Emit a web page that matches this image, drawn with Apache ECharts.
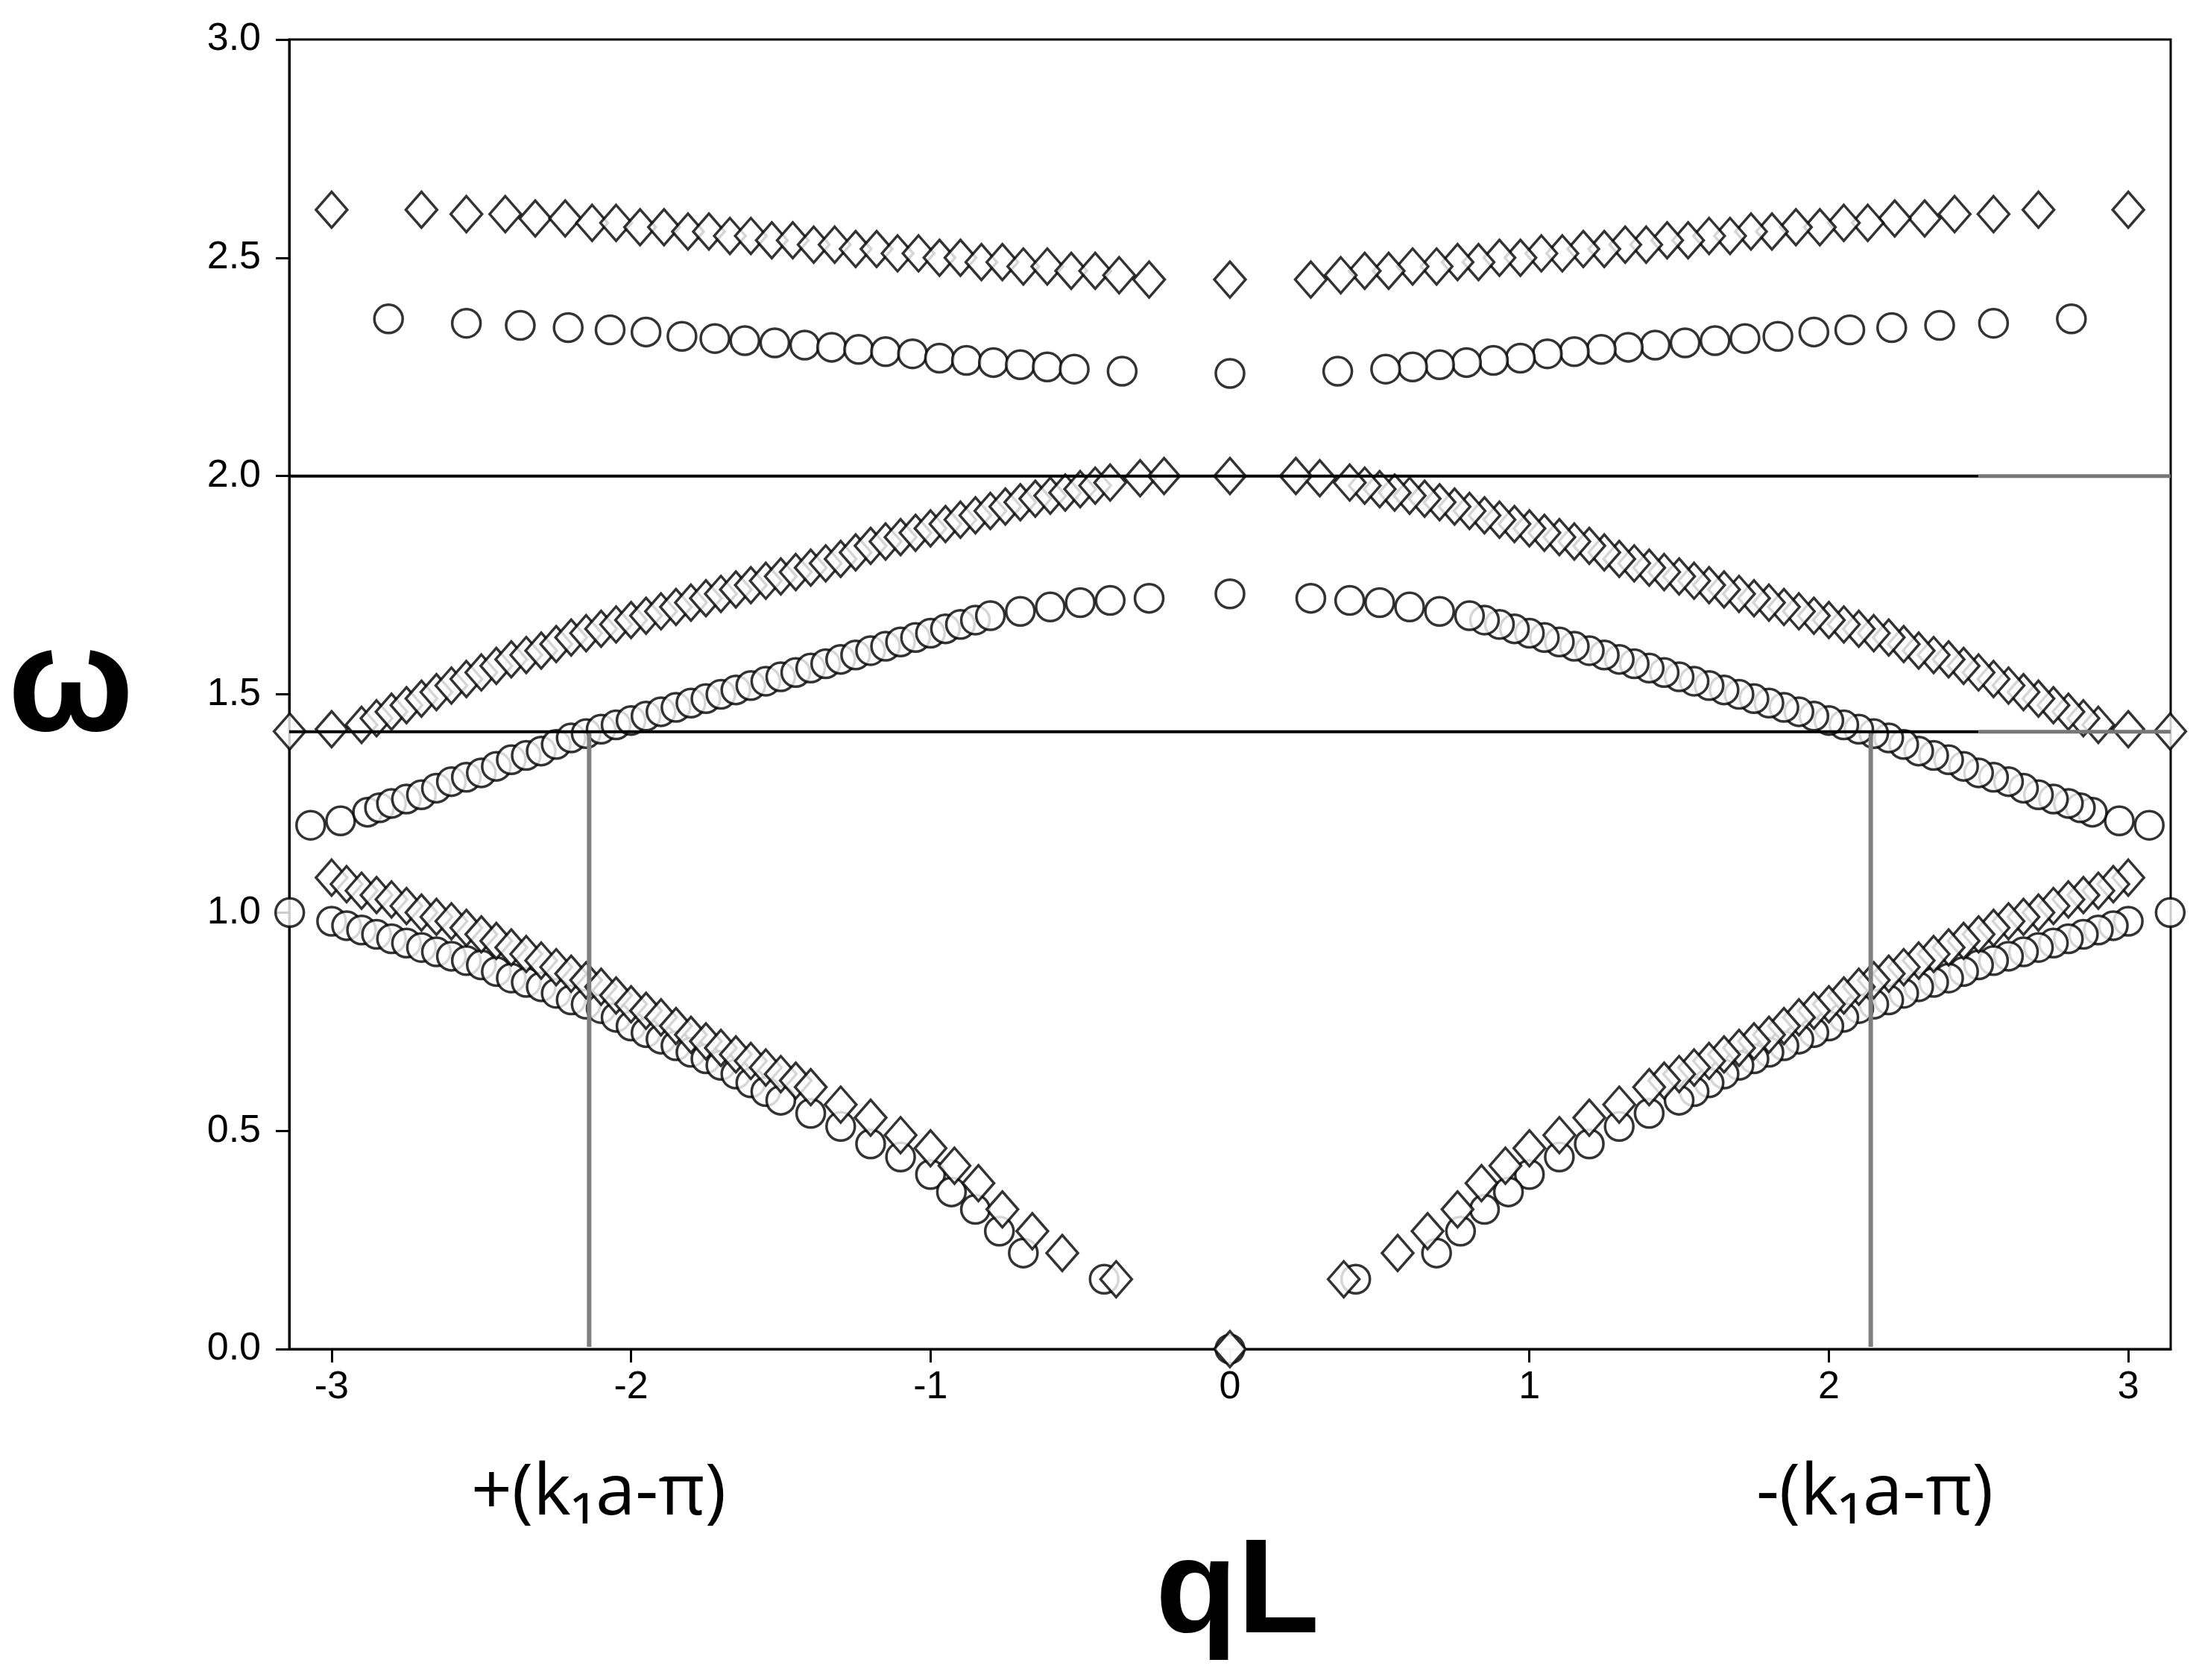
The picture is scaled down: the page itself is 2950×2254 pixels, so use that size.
<!DOCTYPE html>
<html><head><meta charset="utf-8">
<script src="https://cdn.jsdelivr.net/npm/echarts@6/dist/echarts.min.js"></script>
<style>html,body{margin:0;padding:0;background:#fff}#c{width:2950px;height:2254px}</style>
</head><body><div id="c"></div>
<script>
const diamondTopL = [[-3.0,2.61],[-2.70,2.61],[-2.55,2.60],[-2.42,2.60],[-2.32,2.59],[-2.22,2.59],[-2.13,2.58],[-2.05,2.58],[-1.97,2.57],[-1.89,2.57],[-1.81,2.56],[-1.74,2.56],[-1.67,2.55],[-1.60,2.55],[-1.53,2.54],[-1.46,2.54],[-1.39,2.53],[-1.32,2.53],[-1.25,2.52],[-1.18,2.52],[-1.11,2.51],[-1.04,2.51],[-0.97,2.50],[-0.90,2.50],[-0.83,2.49],[-0.76,2.49],[-0.69,2.48],[-0.61,2.48],[-0.53,2.47],[-0.45,2.47],[-0.37,2.46],[-0.27,2.45]];
const diamondTopR = [[3.0,2.61],[2.70,2.61],[2.55,2.60],[2.42,2.60],[2.32,2.59],[2.22,2.59],[2.13,2.58],[2.05,2.58],[1.97,2.57],[1.89,2.57],[1.81,2.56],[1.74,2.56],[1.67,2.55],[1.60,2.55],[1.53,2.54],[1.46,2.54],[1.39,2.53],[1.32,2.53],[1.25,2.52],[1.18,2.52],[1.11,2.51],[1.04,2.51],[0.97,2.50],[0.90,2.50],[0.83,2.49],[0.76,2.49],[0.69,2.48],[0.61,2.48],[0.53,2.47],[0.45,2.47],[0.37,2.46],[0.27,2.45]];
const diamondMidL = [[-3.14,1.415],[-3.0,1.42],[-2.9,1.43],[-2.85,1.445],[-2.8,1.46],[-2.75,1.475],[-2.7,1.49],[-2.65,1.505],[-2.6,1.52],[-2.55,1.535],[-2.5,1.55],[-2.45,1.565],[-2.4,1.58],[-2.35,1.59],[-2.3,1.60],[-2.25,1.615],[-2.2,1.63],[-2.15,1.64],[-2.1,1.65],[-2.05,1.66],[-2.0,1.67],[-1.95,1.68],[-1.9,1.69],[-1.85,1.70],[-1.8,1.71],[-1.75,1.72],[-1.7,1.73],[-1.65,1.74],[-1.6,1.75],[-1.55,1.76],[-1.5,1.77],[-1.45,1.78],[-1.4,1.79],[-1.35,1.80],[-1.3,1.81],[-1.25,1.825],[-1.2,1.84],[-1.15,1.85],[-1.1,1.86],[-1.05,1.87],[-1.0,1.88],[-0.95,1.89],[-0.9,1.90],[-0.85,1.91],[-0.8,1.92],[-0.75,1.93],[-0.7,1.94],[-0.65,1.948],[-0.6,1.955],[-0.55,1.962],[-0.5,1.97],[-0.45,1.978],[-0.4,1.985],[-0.3,1.995],[-0.22,2.0]];
const diamondMidR = [[3.14,1.415],[3.0,1.42],[2.9,1.43],[2.85,1.445],[2.8,1.46],[2.75,1.475],[2.7,1.49],[2.65,1.505],[2.6,1.52],[2.55,1.535],[2.5,1.55],[2.45,1.565],[2.4,1.58],[2.35,1.59],[2.3,1.60],[2.25,1.615],[2.2,1.63],[2.15,1.64],[2.1,1.65],[2.05,1.66],[2.0,1.67],[1.95,1.68],[1.9,1.69],[1.85,1.70],[1.8,1.71],[1.75,1.72],[1.7,1.73],[1.65,1.74],[1.6,1.75],[1.55,1.76],[1.5,1.77],[1.45,1.78],[1.4,1.79],[1.35,1.80],[1.3,1.81],[1.25,1.825],[1.2,1.84],[1.15,1.85],[1.1,1.86],[1.05,1.87],[1.0,1.88],[0.95,1.89],[0.9,1.90],[0.85,1.91],[0.8,1.92],[0.75,1.93],[0.7,1.94],[0.65,1.948],[0.6,1.955],[0.55,1.962],[0.5,1.97],[0.45,1.978],[0.4,1.985],[0.3,1.995],[0.22,2.0]];
const diamondLowL = [[-3.0,1.08],[-2.95,1.065],[-2.9,1.05],[-2.85,1.04],[-2.8,1.03],[-2.75,1.015],[-2.7,1.00],[-2.65,0.99],[-2.6,0.98],[-2.55,0.965],[-2.5,0.95],[-2.45,0.935],[-2.4,0.92],[-2.35,0.905],[-2.3,0.89],[-2.25,0.875],[-2.2,0.86],[-2.15,0.845],[-2.1,0.83],[-2.05,0.81],[-2.0,0.79],[-1.95,0.775],[-1.9,0.76],[-1.85,0.74],[-1.8,0.72],[-1.75,0.705],[-1.7,0.69],[-1.65,0.675],[-1.6,0.66],[-1.55,0.645],[-1.5,0.63],[-1.45,0.615],[-1.4,0.60],[-1.3,0.56],[-1.2,0.53],[-1.1,0.49],[-1.0,0.46],[-0.92,0.42],[-0.84,0.38],[-0.76,0.32],[-0.66,0.27],[-0.56,0.22],[-0.38,0.16]];
const diamondLowR = [[3.0,1.08],[2.95,1.065],[2.9,1.05],[2.85,1.04],[2.8,1.03],[2.75,1.015],[2.7,1.00],[2.65,0.99],[2.6,0.98],[2.55,0.965],[2.5,0.95],[2.45,0.935],[2.4,0.92],[2.35,0.905],[2.3,0.89],[2.25,0.875],[2.2,0.86],[2.15,0.845],[2.1,0.83],[2.05,0.81],[2.0,0.79],[1.95,0.775],[1.9,0.76],[1.85,0.74],[1.8,0.72],[1.75,0.705],[1.7,0.69],[1.65,0.675],[1.6,0.66],[1.55,0.645],[1.5,0.63],[1.45,0.615],[1.4,0.60],[1.3,0.56],[1.2,0.53],[1.1,0.49],[1.0,0.46],[0.92,0.42],[0.84,0.38],[0.76,0.32],[0.66,0.27],[0.56,0.22],[0.38,0.16]];
const diamondCenter = [[0,2.45],[0,2.0],[0,0]];
const circleTopL = [[-2.81,2.36],[-2.55,2.35],[-2.37,2.345],[-2.21,2.34],[-2.07,2.335],[-1.95,2.33],[-1.83,2.32],[-1.72,2.315],[-1.62,2.31],[-1.52,2.305],[-1.42,2.30],[-1.33,2.295],[-1.24,2.29],[-1.15,2.285],[-1.06,2.28],[-0.97,2.27],[-0.88,2.265],[-0.79,2.26],[-0.70,2.255],[-0.61,2.25],[-0.52,2.245],[-0.36,2.24]];
const circleTopR = [[2.81,2.36],[2.55,2.35],[2.37,2.345],[2.21,2.34],[2.07,2.335],[1.95,2.33],[1.83,2.32],[1.72,2.315],[1.62,2.31],[1.52,2.305],[1.42,2.30],[1.33,2.295],[1.24,2.29],[1.15,2.285],[1.06,2.28],[0.97,2.27],[0.88,2.265],[0.79,2.26],[0.70,2.255],[0.61,2.25],[0.52,2.245],[0.36,2.24]];
const circleMidL = [[-3.07,1.20],[-2.97,1.21],[-2.88,1.23],[-2.84,1.24],[-2.8,1.25],[-2.75,1.26],[-2.7,1.27],[-2.65,1.285],[-2.6,1.30],[-2.55,1.31],[-2.5,1.32],[-2.45,1.335],[-2.4,1.35],[-2.35,1.36],[-2.3,1.37],[-2.25,1.385],[-2.2,1.40],[-2.15,1.41],[-2.1,1.42],[-2.05,1.43],[-2.0,1.44],[-1.95,1.45],[-1.9,1.46],[-1.85,1.47],[-1.8,1.48],[-1.75,1.49],[-1.7,1.50],[-1.65,1.51],[-1.6,1.52],[-1.55,1.53],[-1.5,1.54],[-1.45,1.55],[-1.4,1.56],[-1.35,1.57],[-1.3,1.58],[-1.25,1.59],[-1.2,1.60],[-1.15,1.61],[-1.1,1.62],[-1.05,1.63],[-1.0,1.64],[-0.95,1.65],[-0.9,1.66],[-0.85,1.67],[-0.8,1.68],[-0.7,1.69],[-0.6,1.70],[-0.5,1.71],[-0.4,1.715],[-0.27,1.72]];
const circleMidR = [[3.07,1.20],[2.97,1.21],[2.88,1.23],[2.84,1.24],[2.8,1.25],[2.75,1.26],[2.7,1.27],[2.65,1.285],[2.6,1.30],[2.55,1.31],[2.5,1.32],[2.45,1.335],[2.4,1.35],[2.35,1.36],[2.3,1.37],[2.25,1.385],[2.2,1.40],[2.15,1.41],[2.1,1.42],[2.05,1.43],[2.0,1.44],[1.95,1.45],[1.9,1.46],[1.85,1.47],[1.8,1.48],[1.75,1.49],[1.7,1.50],[1.65,1.51],[1.6,1.52],[1.55,1.53],[1.5,1.54],[1.45,1.55],[1.4,1.56],[1.35,1.57],[1.3,1.58],[1.25,1.59],[1.2,1.60],[1.15,1.61],[1.1,1.62],[1.05,1.63],[1.0,1.64],[0.95,1.65],[0.9,1.66],[0.85,1.67],[0.8,1.68],[0.7,1.69],[0.6,1.70],[0.5,1.71],[0.4,1.715],[0.27,1.72]];
const circleLowL = [[-3.14,1.0],[-3.0,0.98],[-2.95,0.97],[-2.9,0.96],[-2.85,0.95],[-2.8,0.94],[-2.75,0.93],[-2.7,0.92],[-2.65,0.91],[-2.6,0.90],[-2.55,0.89],[-2.5,0.88],[-2.45,0.865],[-2.4,0.85],[-2.35,0.84],[-2.3,0.83],[-2.25,0.815],[-2.2,0.80],[-2.15,0.79],[-2.1,0.78],[-2.05,0.76],[-2.0,0.74],[-1.95,0.725],[-1.9,0.71],[-1.85,0.695],[-1.8,0.68],[-1.75,0.665],[-1.7,0.65],[-1.65,0.63],[-1.6,0.61],[-1.55,0.59],[-1.5,0.57],[-1.4,0.54],[-1.3,0.51],[-1.2,0.47],[-1.1,0.44],[-1.0,0.40],[-0.93,0.36],[-0.85,0.32],[-0.77,0.27],[-0.69,0.22],[-0.42,0.16]];
const circleLowR = [[3.14,1.0],[3.0,0.98],[2.95,0.97],[2.9,0.96],[2.85,0.95],[2.8,0.94],[2.75,0.93],[2.7,0.92],[2.65,0.91],[2.6,0.90],[2.55,0.89],[2.5,0.88],[2.45,0.865],[2.4,0.85],[2.35,0.84],[2.3,0.83],[2.25,0.815],[2.2,0.80],[2.15,0.79],[2.1,0.78],[2.05,0.76],[2.0,0.74],[1.95,0.725],[1.9,0.71],[1.85,0.695],[1.8,0.68],[1.75,0.665],[1.7,0.65],[1.65,0.63],[1.6,0.61],[1.55,0.59],[1.5,0.57],[1.4,0.54],[1.3,0.51],[1.2,0.47],[1.1,0.44],[1.0,0.40],[0.93,0.36],[0.85,0.32],[0.77,0.27],[0.69,0.22],[0.42,0.16]];
const circleCenter = [[0,2.235],[0,1.73],[0,0]];
const hLines = [2.0, 1.414];
const vLineX = [-2.14, 2.14];
const xTicks = [-3,-2,-1,0,1,2,3];

const circles = [].concat(circleTopL,circleTopR,circleMidL,circleMidR,circleLowL,circleLowR,circleCenter);
const diamonds = [].concat(diamondTopL,diamondTopR,diamondMidL,diamondMidR,diamondLowL,diamondLowR,diamondCenter);
const PI = Math.PI;
const chart = echarts.init(document.getElementById('c'));
const mk = {color:'#fff', borderColor:'#000', borderWidth:3.5};
const series = [
 {type:'scatter', data:circles, symbol:'circle', symbolSize:38, itemStyle:mk, z:2},
 {type:'scatter', data:diamonds, symbol:'diamond', symbolSize:[42,48], itemStyle:mk, z:3}
];
hLines.forEach(v=>{
  series.push({type:'line', data:[[-PI,v],[2.5,v]], symbol:'none', lineStyle:{color:'#000',width:4}, z:5, silent:true});
  series.push({type:'line', data:[[2.5,v],[PI,v]], symbol:'none', lineStyle:{color:'#777',width:5}, z:5, silent:true});
});
vLineX.forEach(x=>{
  series.push({type:'line', data:[[x,0.005],[x,1.414]], symbol:'none', lineStyle:{color:'#808080',width:6}, z:4, silent:true});
});
chart.setOption({
 animation:false,
 grid:{left:388, right:38, top:53, bottom:444, show:true, borderColor:'#000', borderWidth:3, backgroundColor:'transparent'},
 xAxis:{type:'value', min:-PI, max:PI,
   axisLine:{onZero:false, lineStyle:{color:'#000',width:3}}, axisTick:{show:true, length:18, lineStyle:{width:3,color:'#000'},customValues:xTicks},
   axisLabel:{fontSize:52, color:'#000', fontFamily:'Liberation Sans', margin:26, customValues:xTicks, formatter:v=>String(v)},
   splitLine:{show:false}},
 yAxis:{type:'value', min:0, max:3, interval:0.5,
   axisLine:{onZero:false, lineStyle:{color:'#000',width:3}}, axisTick:{length:18, lineStyle:{width:3,color:'#000'}},
   axisLabel:{fontSize:52, color:'#000', fontFamily:'Liberation Sans', margin:38, formatter:v=>v.toFixed(1)},
   splitLine:{show:false}},
 series:series,
 graphic:[
  {type:'text', x:803, y:2005, style:{text:'+(k\u2081a-\u03c0)', font:'96px "Open Sans"', fill:'#000', textAlign:'center', textVerticalAlign:'middle'}},
  {type:'text', x:2515, y:2005, style:{text:'-(k\u2081a-\u03c0)', font:'96px "Open Sans"', fill:'#000', textAlign:'center', textVerticalAlign:'middle'}},
  {type:'text', x:1660, y:2140, style:{text:'qL', font:'bold 180px "Liberation Sans"', fill:'#000', textAlign:'center', textVerticalAlign:'middle'}},
  {type:'text', x:95, y:925, style:{text:'\u03c9', font:'bold 200px "Liberation Sans"', fill:'#000', textAlign:'center', textVerticalAlign:'middle'}}
 ]
});
</script></body></html>
